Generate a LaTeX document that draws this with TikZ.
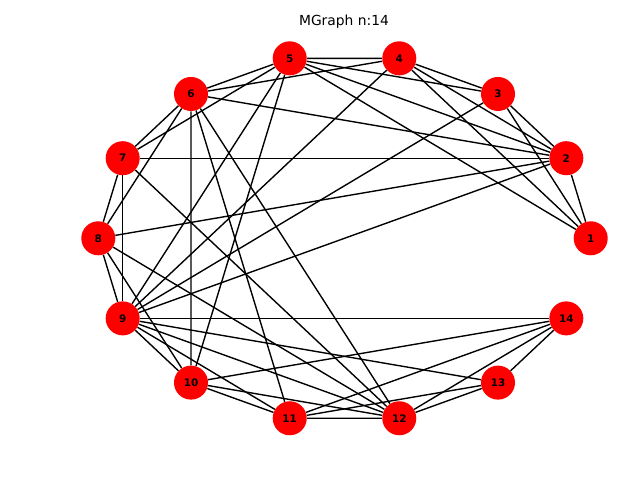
\documentclass[tikz,border=0pt]{standalone}
\usepackage{fontspec}
\setmainfont{DejaVu Sans}
\begin{document}
\begin{tikzpicture}[x=0.01in,y=0.01in,
  vtx/.style={circle,fill=red,draw=none,minimum size=0.34in,inner sep=0pt,
    font=\fontsize{7.5}{8}\selectfont\bfseries},
  edge/.style={black,line width=1pt},
  titletext/.style={font=\fontsize{10}{12}\selectfont,anchor=base}]
\useasboundingbox (0,0) rectangle (640,480);
\foreach \k in {1,...,14}{
  \node[vtx] (n\k) at ({344.5+246.2*cos((\k-1)*360/14)},{241.7+184.6*sin((\k-1)*360/14)}) {\k};
}
\foreach \a/\b in {1/2,1/3,1/4,1/5,
  2/3,2/4,2/5,2/6,2/7,2/8,2/9,
  3/4,3/5,3/9,
  4/5,4/6,4/9,
  5/6,5/7,5/9,5/10,
  6/7,6/8,6/10,6/11,6/12,
  7/8,7/9,7/12,
  8/9,8/10,8/12,
  9/10,9/11,9/12,9/13,9/14,
  10/11,10/12,10/14,
  11/12,11/13,11/14,
  12/13,12/14,
  13/14}{
  \draw[edge] (n\a) -- (n\b);
}
\node[titletext] (title) at (344,454) {MGraph n:14};
\end{tikzpicture}
\end{document}
